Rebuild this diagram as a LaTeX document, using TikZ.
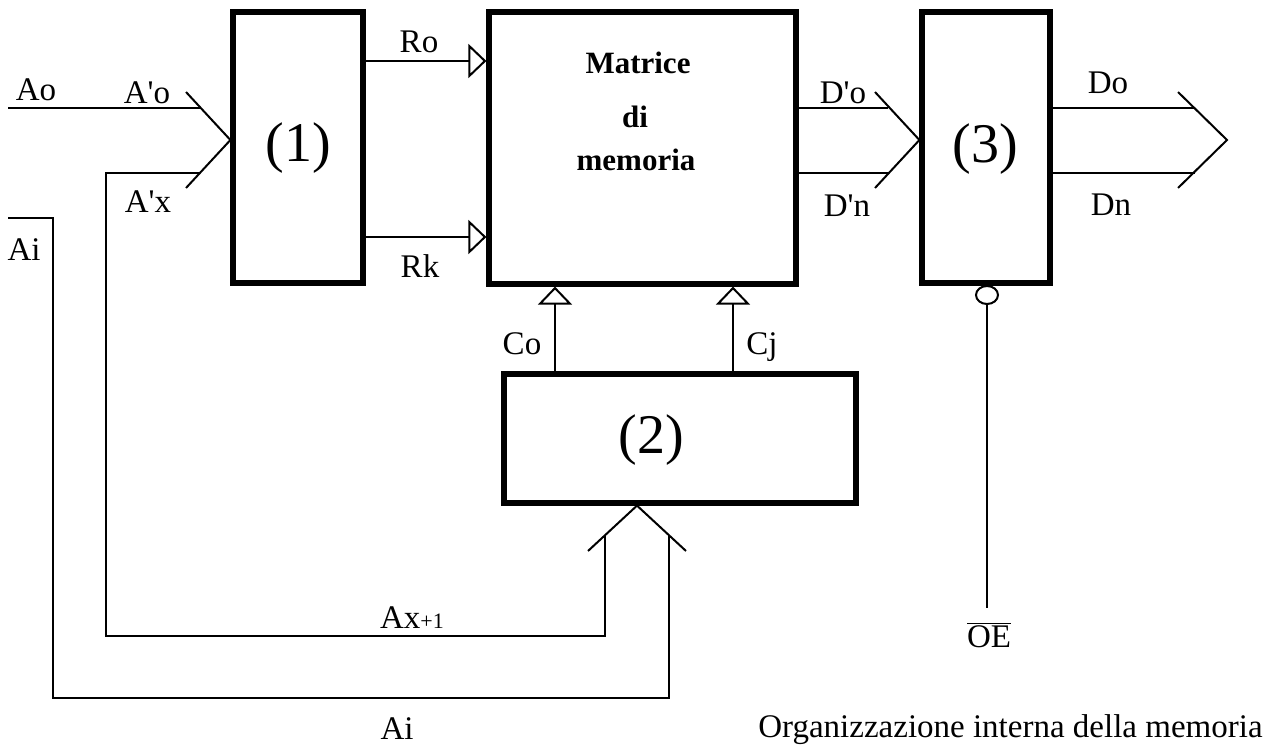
\documentclass[tikz,border=0pt]{standalone}
\usepackage{fontspec}
\setmainfont{Liberation Serif}
\usetikzlibrary{arrows.meta,shapes.geometric}
\begin{document}
\begin{tikzpicture}[x=0.5pt,y=-0.5pt,
  thin line/.style={line width=1pt},
  block/.style={draw,line width=2.6pt,inner sep=0pt},
  lbl/.style={inner sep=0pt,font=\fontsize{16.5}{19}\selectfont},
  num/.style={inner sep=0pt,font=\fontsize{28}{32}\selectfont},
  bold lbl/.style={inner sep=0pt,anchor=base,font=\fontsize{15.5}{18}\selectfont\bfseries},
  open tri/.style={-{Triangle[open,length=9pt,width=17pt]}},
]
\useasboundingbox (0,0) rectangle (1269,749);

% blocks
\node[block,minimum width=65pt,minimum height=135.5pt] (b1) at (298,147.5) {};
\node[block,minimum width=153.5pt,minimum height=136pt] (mat) at (642.5,148) {};
\node[block,minimum width=64pt,minimum height=135.5pt] (b3) at (986,147.5) {};
\node[block,minimum width=176pt,minimum height=64.5pt] (b2) at (680,438.5) {};

\node[num] (n1) at (298,148) {(1)};
\node[num] (n2) at (651,440) {(2)};
\node[num] (n3) at (985,149) {(3)};
\node[bold lbl] (m1) at (638,74) {Matrice};
\node[bold lbl] (m2) at (635,127) {di};
\node[bold lbl] (m3) at (636,170) {memoria};

% address inputs to block (1)
\coordinate (ao) at (8,108);
\coordinate (axin) at (200,173);
\coordinate (bus1) at (b1.west |- 0,140);
\draw[thin line] (ao) -- (200,108);
\draw[thin line] (186,92) -- (bus1) -- (186,188);
\draw[thin line] (axin) -- (106,173) -- (106,636) -- (605,636) -- (605,535);

% address inputs to block (2)
\coordinate (bus2) at (b2.south -| 637,0);
\draw[thin line] (588,551) -- (bus2) -- (686,551);
\coordinate (aiin) at (8,218);
\draw[thin line] (aiin) -- (53,218) -- (53,698) -- (669,698) -- (669,535);

% row lines
\draw[thin line,open tri] (b1.east |- 0,61) -- (mat.west |- 0,61);
\draw[thin line,open tri] (b1.east |- 0,237) -- (mat.west |- 0,237);

% column lines
\draw[thin line,open tri] (b2.north -| 555,0) -- (mat.south -| 555,0);
\draw[thin line,open tri] (b2.north -| 733,0) -- (mat.south -| 733,0);

% data lines into block (3)
\coordinate (bus3) at (b3.west |- 0,140);
\draw[thin line] (mat.east |- 0,108) -- (888,108);
\draw[thin line] (mat.east |- 0,173) -- (888,173);
\draw[thin line] (875,92) -- (bus3) -- (875,188);

% data outputs
\coordinate (dout) at (1227,140);
\draw[thin line] (b3.east |- 0,108) -- (1195,108);
\draw[thin line] (b3.east |- 0,173) -- (1195,173);
\draw[thin line] (1178,92) -- (dout) -- (1178,188);

% output enable
\node[draw,thin line,ellipse,minimum width=11pt,minimum height=9pt,inner sep=0pt] (inv) at (987,295) {};
\coordinate (oe) at (987,608);
\draw[thin line] (inv.south) -- (oe);

% labels
\node[lbl] (lAo) at (36,90) {Ao};
\node[lbl] (lAo2) at (147,93) {A\textquotesingle o};
\node[lbl] (lAx2) at (148,202) {A\textquotesingle x};
\node[lbl] (lAi) at (24,250) {Ai};
\node[lbl] (lRo) at (419,42) {Ro};
\node[lbl] (lRk) at (420,266) {Rk};
\node[lbl] (lCo) at (522,344) {Co};
\node[lbl] (lCj) at (762,347) {Cj};
\node[lbl] (lDo2) at (843,93) {D\textquotesingle o};
\node[lbl] (lDn2) at (847,206) {D\textquotesingle n};
\node[lbl] (lDo) at (1108,83) {Do};
\node[lbl] (lDn) at (1111,205) {Dn};
\node[lbl] (lAx1) at (412,618) {Ax{\fontsize{11}{12}\selectfont +1}};
\node[lbl,anchor=base] (lAib) at (397,739) {Ai};
\node[lbl] (lOE) at (989,635) {$\overline{\hbox{OE}}$};
\node[lbl,anchor=base east] (cap) at (1263,737) {Organizzazione interna della memoria};
\end{tikzpicture}
\end{document}
